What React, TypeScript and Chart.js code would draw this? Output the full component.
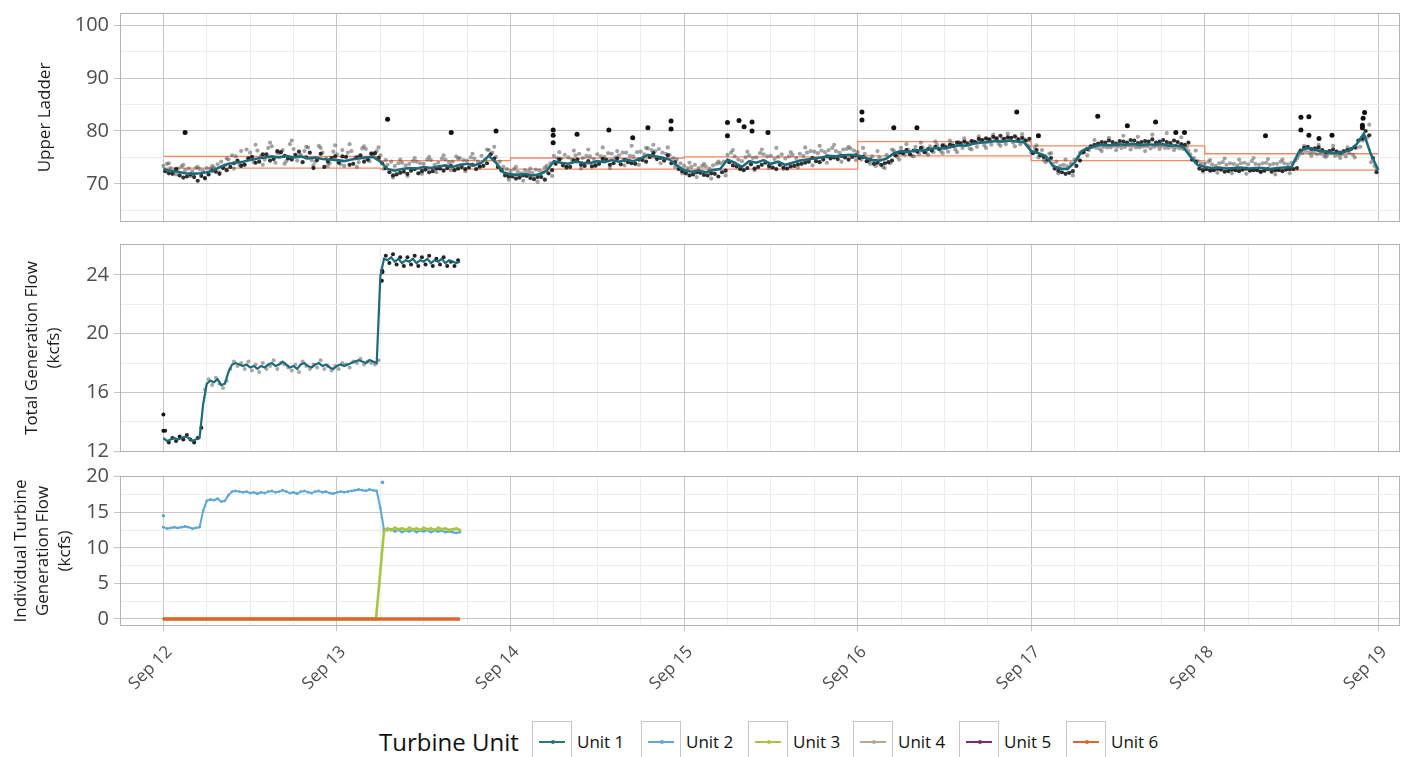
import React, { useEffect, useRef } from 'react';
import { Chart, registerables } from 'chart.js';

Chart.register(...registerables);

// ---------- DATA ----------
const DAY_LABELS = ['Sep 12', 'Sep 13', 'Sep 14', 'Sep 15', 'Sep 16', 'Sep 17', 'Sep 18', 'Sep 19'];

// Upper Ladder smoothed line, hourly from Sep 12 00:00 (h = 0..168)
const LADDER_LINE = [
  72.8, 72.5, 72.3, 72.0, 71.9, 72.0, 72.2, 72.6, 73.3, 73.8, 74.0, 74.2, 74.5, 74.8, 75.0, 75.2, 75.0, 75.3, 75.0, 75.2, 74.8, 75.0, 74.7, 74.6,
  74.5, 74.3, 74.6, 74.8, 75.0, 75.1, 74.2, 72.8, 72.5, 72.8, 73.0, 72.9, 73.2, 73.0, 73.3, 73.5, 73.2, 73.6, 73.8, 73.5, 74.0, 75.3, 74.0, 72.2,
  71.8, 71.7, 71.9, 71.6, 71.8, 72.5, 74.3, 74.0, 73.8, 74.2, 74.0, 73.9, 74.3, 74.1, 74.5, 74.2, 74.6, 74.3, 74.8, 75.5, 75.2, 75.0, 74.6, 73.5,
  72.6, 72.3, 72.5, 72.2, 72.6, 72.8, 74.6, 74.0, 73.2, 74.3, 74.0, 74.5, 73.8, 74.2, 73.6, 74.0, 74.4, 74.6, 74.8, 75.0, 75.3, 75.2, 75.4, 75.5,
  75.4, 75.0, 74.5, 74.4, 74.8, 75.8, 76.2, 76.0, 76.4, 76.3, 76.6, 76.8, 76.7, 77.0, 77.3, 77.2, 77.6, 77.8, 77.9, 78.1, 78.0, 78.2, 78.0, 77.9,
  76.2, 75.8, 75.3, 73.4, 72.9, 72.8, 74.0, 76.2, 76.8, 77.2, 77.4, 77.3, 77.5, 77.4, 77.6, 77.3, 77.5, 77.4, 77.6, 77.2, 77.3, 77.0, 75.2, 73.6,
  73.2, 73.0, 73.1, 72.9, 73.0, 73.1, 72.9, 73.0, 73.0, 72.8, 73.0, 73.1, 73.2, 76.0, 76.8, 76.5, 76.2, 76.0, 75.8, 76.0, 76.3, 77.5, 79.5, 75.5,
  72.6,
];

// Upper Ladder readings (dark points), hourly at h + 0.25
const LADDER_BLACK_A = [
  72.4, 71.9, 71.6, 71.4, 71.3, 71.5, 71.8, 72.3, 73.0, 73.2, 74.4, 73.6, 75.1, 74.2, 75.6, 74.7, 76.0, 74.8, 75.5, 74.1, 75.9, 74.5, 73.2, 74.9,
  74.0, 75.1, 73.8, 75.4, 74.6, 75.8, 73.9, 72.2, 71.8, 72.3, 72.5, 72.0, 72.7, 72.4, 72.9, 73.0, 72.6, 73.2, 73.1, 72.8, 73.4, 75.6, 73.2, 71.6,
  71.4, 71.2, 71.5, 70.9, 71.3, 72.0, 73.8, 73.5, 73.2, 74.6, 73.4, 73.3, 73.8, 74.5, 73.9, 73.7, 74.1, 73.8, 74.5, 75.1, 74.7, 74.4, 73.9, 72.8,
  72.0, 71.8, 72.1, 71.6, 71.9, 72.2, 74.1, 73.3, 72.6, 73.7, 73.2, 74.0, 73.1, 73.6, 72.9, 73.4, 73.8, 74.2, 74.3, 74.6, 74.8, 74.7, 75.0, 75.1,
  74.9, 74.3, 73.8, 73.6, 74.1, 75.4, 75.8, 75.6, 76.1, 76.0, 76.3, 76.6, 76.9, 77.2, 77.6, 77.5, 77.9, 78.3, 78.4, 78.6, 78.5, 78.7, 78.4, 78.2,
  75.8, 75.4, 74.6, 72.9, 72.2, 72.1, 73.4, 76.0, 77.1, 77.6, 77.8, 77.9, 78.1, 77.8, 78.2, 77.9, 78.0, 77.8, 78.3, 77.7, 77.9, 77.4, 74.6, 72.9,
  72.8, 72.6, 72.7, 72.4, 72.6, 72.7, 72.5, 72.6, 72.5, 72.3, 72.6, 72.7, 72.8, 76.3, 77.0, 76.7, 76.4, 76.2, 76.1, 76.2, 76.6, 78.2, 80.0, 74.9,
];

// Upper Ladder readings (dark points), hourly at h + 0.75
const LADDER_BLACK_B = [
  72.0, 72.8, 71.2, 71.8, 70.6, 71.1, 72.5, 71.9, 72.6, 73.9, 73.4, 74.8, 74.0, 75.6, 74.4, 76.2, 75.3, 74.6, 76.1, 75.0, 73.0, 75.7, 74.2, 75.2,
  75.2, 73.6, 75.0, 74.2, 75.7, 74.9, 73.0, 71.6, 72.1, 71.9, 72.8, 72.4, 72.2, 72.9, 72.5, 73.4, 72.9, 72.8, 73.6, 73.3, 73.9, 74.8, 72.6, 71.4,
  71.0, 71.6, 71.1, 71.3, 70.8, 72.6, 74.6, 73.2, 74.4, 73.6, 74.3, 73.5, 74.7, 73.6, 74.8, 74.5, 73.9, 74.6, 74.2, 75.8, 74.9, 75.4, 74.1, 72.4,
  71.6, 72.2, 71.7, 72.0, 71.4, 72.5, 73.5, 72.8, 73.0, 72.9, 73.6, 73.4, 72.8, 73.1, 73.3, 73.7, 74.0, 74.9, 74.1, 75.2, 75.0, 75.3, 74.6, 75.4,
  75.1, 74.6, 74.0, 73.9, 74.4, 75.9, 76.4, 76.3, 76.8, 76.6, 77.0, 77.3, 77.4, 77.8, 78.0, 78.1, 78.5, 78.6, 78.9, 79.1, 78.8, 79.0, 78.7, 78.5,
  76.4, 75.1, 74.9, 72.5, 71.9, 72.4, 74.4, 76.6, 77.4, 77.9, 78.2, 77.6, 78.0, 78.3, 77.7, 78.1, 78.4, 78.0, 77.9, 78.2, 77.5, 77.8, 74.2, 72.6,
  72.5, 72.9, 72.3, 72.7, 72.4, 72.9, 72.6, 72.3, 72.8, 72.6, 72.4, 72.8, 73.0, 76.8, 76.6, 76.9, 76.0, 76.5, 75.9, 76.4, 76.9, 78.6, 79.2, 72.2,
];

// Upper Ladder readings (light points), hourly at h + 0.0
const LADDER_GREY_A = [
  73.4, 73.0, 72.9, 72.6, 72.4, 72.8, 73.0, 73.1, 74.2, 74.6, 75.2, 73.8, 75.9, 76.3, 74.6, 77.1, 75.8, 74.3, 76.6, 75.5, 76.9, 74.2, 75.9, 73.9,
  75.6, 73.4, 76.2, 74.1, 76.6, 75.5, 75.4, 73.6, 73.4, 74.0, 73.8, 74.2, 73.8, 74.5, 74.0, 74.6, 74.2, 74.9, 74.4, 74.8, 75.3, 76.4, 75.1, 73.2,
  72.4, 72.3, 72.6, 72.1, 72.5, 73.4, 75.3, 74.8, 75.0, 75.4, 74.9, 75.2, 75.6, 75.1, 75.7, 75.4, 75.9, 75.2, 76.1, 76.7, 76.2, 75.9, 75.5, 74.6,
  73.4, 73.2, 73.0, 73.3, 73.5, 73.9, 75.5, 75.2, 74.3, 75.4, 75.0, 75.6, 75.3, 75.1, 74.8, 75.5, 75.7, 75.9, 76.1, 76.3, 76.4, 76.2, 76.5, 76.7,
  76.0, 75.7, 75.2, 75.0, 75.5, 76.3, 76.8, 76.5, 77.0, 76.9, 77.1, 77.4, 77.3, 77.6, 77.9, 77.8, 78.1, 78.3, 78.4, 78.6, 78.5, 78.7, 78.6, 78.4,
  75.9, 75.0, 74.1, 73.8, 73.4, 73.3, 74.6, 75.8, 76.4, 76.8, 77.0, 76.9, 77.1, 77.0, 77.2, 76.9, 77.1, 77.0, 77.2, 76.8, 76.9, 76.6, 75.6, 74.3,
  73.8, 73.7, 73.9, 73.6, 73.8, 73.9, 73.7, 73.8, 73.9, 73.6, 73.8, 73.9, 74.0, 75.4, 76.2, 76.0, 75.7, 75.5, 75.3, 75.6, 75.8, 76.8, 78.4, 74.1,
];

// Upper Ladder readings (light points), hourly at h + 0.5
const LADDER_GREY_B = [
  73.8, 72.4, 73.3, 72.9, 73.0, 72.5, 72.9, 73.7, 73.5, 75.4, 73.6, 76.5, 74.1, 75.3, 76.8, 74.0, 76.4, 77.5, 74.4, 76.2, 74.5, 77.2, 74.8, 76.1,
  73.7, 75.9, 74.9, 76.7, 74.3, 76.2, 72.9, 74.2, 73.9, 73.5, 74.3, 73.9, 74.6, 73.6, 74.8, 74.1, 75.2, 74.5, 75.0, 74.2, 74.6, 75.9, 74.2, 72.8,
  72.8, 72.0, 72.3, 72.7, 72.2, 73.9, 74.9, 75.5, 74.6, 75.7, 75.3, 74.7, 75.2, 75.8, 75.0, 75.9, 75.3, 76.0, 75.6, 76.4, 76.6, 75.7, 74.9, 73.9,
  73.0, 73.6, 73.4, 72.9, 73.8, 74.2, 75.9, 74.6, 75.0, 74.9, 75.8, 75.2, 74.7, 75.6, 75.2, 74.9, 75.3, 76.2, 75.8, 76.0, 76.8, 75.9, 76.6, 76.3,
  74.6, 74.2, 73.4, 73.2, 73.9, 75.1, 75.5, 75.3, 75.7, 75.9, 76.0, 76.2, 76.1, 76.5, 76.8, 76.7, 77.0, 77.3, 77.4, 77.6, 77.5, 77.8, 77.5, 77.3,
  76.8, 76.4, 75.7, 74.2, 73.6, 73.9, 75.1, 76.5, 77.0, 76.6, 76.9, 77.2, 76.8, 77.3, 76.9, 77.1, 76.7, 77.2, 76.8, 77.0, 76.7, 76.9, 74.9, 73.9,
  74.2, 73.4, 74.1, 73.9, 73.5, 74.0, 74.3, 73.6, 74.0, 73.8, 74.2, 73.7, 74.4, 75.8, 75.9, 75.6, 75.3, 75.8, 75.4, 75.2, 75.5, 77.0, 78.8, 73.4,
];

// Upper Ladder readings (light points, wider scatter), hourly at h + 0.75
const LADDER_GREY_C = [
  73.9, 71.8, 73.6, 71.5, 73.2, 71.0, 73.4, 72.2, 74.8, 72.9, 76.2, 74.9, 77.4, 73.6, 77.8, 75.9, 73.8, 78.2, 75.2, 77.0, 73.5, 76.8, 73.4, 77.3,
  76.4, 77.5, 73.2, 77.1, 75.8, 76.9, 74.5, 71.2, 74.6, 71.5, 74.9, 71.9, 75.1, 72.2, 75.4, 72.6, 74.8, 72.4, 75.7, 73.1, 76.5, 77.0, 72.5, 70.8,
  73.2, 70.6, 72.9, 70.4, 73.1, 71.5, 76.0, 73.0, 76.3, 72.9, 76.5, 73.4, 76.9, 73.0, 76.2, 73.5, 77.2, 73.6, 76.8, 77.4, 73.9, 76.9, 73.2, 72.0,
  74.0, 71.3, 73.8, 71.0, 74.2, 71.6, 76.4, 73.2, 76.1, 72.6, 76.5, 73.0, 76.8, 72.8, 76.0, 73.1, 76.9, 73.5, 77.2, 74.0, 77.4, 74.2, 77.0, 74.5,
  76.8, 73.8, 76.2, 73.0, 76.5, 74.6, 77.5, 75.2, 77.8, 75.5, 78.0, 75.8, 78.2, 76.0, 78.6, 76.5, 79.0, 76.8, 79.3, 77.2, 79.5, 77.1, 79.4, 77.0,
  77.3, 74.5, 75.8, 72.0, 74.6, 71.6, 75.9, 75.4, 78.3, 76.2, 78.7, 76.4, 79.1, 76.5, 78.9, 76.2, 79.3, 76.6, 79.6, 76.4, 78.8, 76.2, 76.3, 72.3,
  74.5, 72.1, 74.8, 72.0, 74.6, 71.9, 74.9, 72.2, 74.7, 71.8, 74.6, 72.0, 74.8, 77.2, 75.3, 77.4, 75.1, 77.2, 74.9, 76.9, 75.0, 78.2, 81.2, 72.8,
];

// Upper Ladder outlying readings
const LADDER_OUTLIER_HOURS = [3.0, 31.0, 39.8, 46.0, 53.9, 53.9, 53.9, 57.2, 61.6, 64.9, 67.0, 70.2, 70.2, 78.0, 78.0, 79.6, 80.3, 81.4, 81.4, 83.6, 96.6, 96.6, 101.0, 104.2, 118.0, 121.0, 129.2, 133.3, 137.2, 140.0, 141.2, 152.4, 157.3, 158.4, 157.3, 158.4, 159.8, 161.6, 166.1, 165.9, 165.8, 165.8];
const LADDER_OUTLIER_VALUES = [79.7, 82.2, 79.7, 80.0, 80.2, 79.2, 77.8, 79.4, 80.2, 78.7, 80.6, 81.9, 80.4, 81.6, 79.1, 82.0, 80.8, 81.7, 80.0, 79.7, 83.6, 82.1, 80.6, 80.6, 83.6, 79.1, 82.8, 81.0, 81.7, 79.7, 79.7, 79.1, 82.6, 82.7, 80.2, 79.2, 78.6, 79.2, 83.5, 82.4, 81.1, 80.6];

// Criteria band (step lines), start hour of each step
const BAND_HOURS = [0, 30, 48, 72, 96, 120, 144, 168];
const BAND_UPPER = [75.2, 74.4, 74.9, 75.1, 78.0, 77.2, 75.7, 75.7];
const BAND_LOWER = [73.0, 72.8, 72.8, 72.8, 75.3, 74.4, 72.6, 72.6];

// Total generation flow (kcfs), every half hour from h = 0 to 41
const TOTAL_LINE = [
  12.9, 12.7, 12.8, 12.9, 12.8, 12.9, 13.0, 12.9, 12.7, 12.8, 12.9,
  15.2, 16.6, 16.8, 16.7, 16.9, 16.5, 16.6, 17.4, 17.9,
  18.0, 17.9, 17.8, 17.9, 17.7, 17.8, 17.6, 17.8, 17.7, 17.9,
  18.0, 17.8, 17.9, 18.1, 17.9, 17.7, 17.8, 17.6, 17.9, 18.0,
  17.8, 17.7, 17.9, 18.0, 17.8, 17.9, 17.7, 17.6, 17.8, 17.9,
  17.8, 17.9, 18.0, 18.1, 18.2, 18.1, 18.0, 18.2, 18.1, 18.0,
  23.9, 25.1, 25.0, 25.2, 24.9, 25.1, 24.8, 25.0, 24.9, 25.1,
  24.8, 25.0, 24.9, 25.1, 24.8, 25.0, 24.9, 25.1, 24.8, 25.0,
  24.9, 24.8, 24.9,
];
// Total generation flow readings, every half hour at h + 0.25
const TOTAL_DOTS = [
  13.4, 12.6, 12.9, 12.7, 13.0, 12.8, 13.1, 12.8, 12.6, 12.9, 13.6,
  16.2, 16.9, 16.5, 17.0, 16.6, 16.3, 16.8, 17.6, 18.1,
  17.8, 18.0, 17.6, 18.1, 17.5, 17.9, 17.4, 18.0, 17.6, 17.8,
  18.2, 17.6, 18.0, 17.9, 17.7, 17.5, 17.9, 17.4, 18.1, 17.8,
  17.6, 17.9, 17.7, 18.2, 17.6, 17.8, 17.5, 17.8, 17.6, 18.0,
  17.9, 17.7, 18.1, 18.0, 18.3, 17.9, 18.1, 18.0, 17.9, 18.2,
  24.3, 25.3, 24.8, 25.4, 24.7, 25.2, 24.6, 25.2, 24.7, 25.3,
  24.6, 25.2, 24.7, 25.3, 24.6, 25.1, 24.7, 25.2, 24.6, 24.9, 24.6, 25.0,
];
const TOTAL_EXTRA_HOURS = [0, 0, 30.2, 30.3];
const TOTAL_EXTRA_VALUES = [14.5, 13.4, 23.6, 24.2];

// Individual turbine flows (kcfs)
const UNIT2_FLOW = [
  12.9, 12.7, 12.8, 12.9, 12.8, 12.9, 13.0, 12.9, 12.7, 12.8, 12.9,
  15.2, 16.6, 16.8, 16.7, 16.9, 16.5, 16.6, 17.4, 17.9,
  18.0, 17.9, 17.8, 17.9, 17.7, 17.8, 17.6, 17.8, 17.7, 17.9,
  18.0, 17.8, 17.9, 18.1, 17.9, 17.7, 17.8, 17.6, 17.9, 18.0,
  17.8, 17.7, 17.9, 18.0, 17.8, 17.9, 17.7, 17.6, 17.8, 17.9,
  17.8, 17.9, 18.0, 18.1, 18.2, 18.1, 18.0, 18.2, 18.1, 18.0,
  15.6, 12.6, 12.5, 12.6, 12.3, 12.5, 12.2, 12.4, 12.3, 12.5,
  12.2, 12.4, 12.3, 12.5, 12.2, 12.4, 12.3, 12.4, 12.2, 12.3,
  12.2, 12.1, 12.2,
];
const UNIT2_EXTRA_HOURS = [0, 30.3];
const UNIT2_EXTRA_VALUES = [14.5, 19.2];
const UNIT3_HOURS = [0, 29.4, 30.5, 31, 31.5, 32, 32.5, 33, 33.5, 34, 34.5, 35, 35.5, 36, 36.5, 37, 37.5, 38, 38.5, 39, 39.5, 40, 40.5, 41];
const UNIT3_FLOW = [0, 0, 12.3, 12.7, 12.5, 12.8, 12.6, 12.7, 12.5, 12.8, 12.6, 12.7, 12.5, 12.8, 12.6, 12.7, 12.5, 12.8, 12.6, 12.7, 12.5, 12.6, 12.7, 12.5];
const OFF_HOURS = [0, 41];
const OFF_FLOW = [0, 0];

const UNIT_NAMES = ['Unit 1', 'Unit 2', 'Unit 3', 'Unit 4', 'Unit 5', 'Unit 6'];
const UNIT_COLORS = ['#2b7774', '#5fa8d6', '#a7c445', '#b8a791', '#7e2a72', '#e0652b'];

// ---------- STYLE HELPERS ----------
const FONT = "'Open Sans', 'Noto Sans', sans-serif";
const X_MIN = -6;
const X_MAX = 171;
const HOUR_TICKS: number[] = [];
for (let h = 0; h <= 168; h += 6) HOUR_TICKS.push(h);
const MAJOR = '#c6c6c6';
const MINOR = '#ececec';
const CLEAR = 'rgba(0,0,0,0)';

type Pt = { x: number; y: number };
const series = (vals: number[], step: number, offset: number): Pt[] => vals.map((y, i) => ({ x: i * step + offset, y }));
const zip = (xs: number[], ys: number[]): Pt[] => xs.map((x, i) => ({ x, y: ys[i] }));

const panelBorder = {
  id: 'panelBorder',
  afterDraw(chart: any) {
    const { ctx, chartArea: a } = chart;
    ctx.save();
    ctx.strokeStyle = '#b3b3b3';
    ctx.lineWidth = 1;
    ctx.strokeRect(Math.round(a.left) + 0.5, Math.round(a.top) + 0.5, Math.round(a.width) - 1, Math.round(a.height) - 1);
    ctx.restore();
  },
};

interface PanelCfg {
  datasets: any[];
  yMin: number;
  yMax: number;
  yTicks: number[];
  yMajor: number[];
  title: string | string[];
  titlePad: number;
  showX: boolean;
  padTop: number;
  xHeight: number;
}

function makePanel(canvas: HTMLCanvasElement, cfg: PanelCfg) {
  return new Chart(canvas, {
    type: 'line',
    data: { datasets: cfg.datasets },
    plugins: [panelBorder],
    options: {
      responsive: false,
      maintainAspectRatio: false,
      animation: false,
      parsing: false as any,
      normalized: true,
      layout: { padding: { left: 0, right: 4, top: cfg.padTop, bottom: 0 } },
      plugins: { legend: { display: false }, tooltip: { enabled: false } },
      elements: { line: { tension: 0 }, point: { radius: 0, borderWidth: 0 } },
      scales: {
        x: {
          type: 'linear',
          min: X_MIN,
          max: X_MAX,
          afterBuildTicks: (s: any) => {
            s.ticks = HOUR_TICKS.map((v) => ({ value: v }));
          },
          afterFit: (s: any) => {
            s.height = cfg.xHeight;
            s.paddingLeft = 0;
            s.paddingRight = 0;
          },
          ticks: {
            display: cfg.showX,
            autoSkip: false,
            minRotation: 45,
            maxRotation: 45,
            padding: 11,
            labelOffset: 6,
            color: '#4d4d4d',
            font: { family: FONT, size: 17 },
            callback: (_v: any, i: number, ticks: any[]) => {
              const v = ticks[i].value;
              return v % 24 === 0 ? DAY_LABELS[v / 24] : '';
            },
          },
          grid: {
            color: (c: any) => (c.tick && c.tick.value % 24 === 0 ? MAJOR : MINOR),
            tickColor: (c: any) => (c.tick && c.tick.value % 24 === 0 ? MAJOR : CLEAR),
            drawTicks: cfg.showX,
            tickLength: 5,
            lineWidth: 1,
          },
          border: { display: false },
        },
        y: {
          type: 'linear',
          min: cfg.yMin,
          max: cfg.yMax,
          afterBuildTicks: (s: any) => {
            s.ticks = cfg.yTicks.map((v) => ({ value: v }));
          },
          afterFit: (s: any) => {
            s.width = 120;
            s.paddingTop = 0;
            s.paddingBottom = 0;
          },
          ticks: {
            autoSkip: false,
            padding: 5,
            color: '#4d4d4d',
            font: { family: FONT, size: 20 },
            callback: (_v: any, i: number, ticks: any[]) => {
              const v = ticks[i].value;
              return cfg.yMajor.includes(v) ? String(v) : '';
            },
          },
          grid: {
            color: (c: any) => (c.tick && cfg.yMajor.includes(c.tick.value) ? MAJOR : MINOR),
            tickColor: (c: any) => (c.tick && cfg.yMajor.includes(c.tick.value) ? MAJOR : CLEAR),
            tickLength: 6,
            lineWidth: 1,
          },
          border: { display: false },
          title: {
            display: true,
            text: cfg.title,
            color: '#1a1a1a',
            font: { family: FONT, size: 17, lineHeight: 1.3 },
            padding: { top: cfg.titlePad, bottom: 0 },
          },
        },
      },
    } as any,
  });
}

const dots = (data: Pt[], color: any, r: number) => ({
  data,
  showLine: false,
  pointRadius: r,
  pointBackgroundColor: color,
  pointBorderWidth: 0,
  borderColor: color,
});

const line = (data: Pt[], color: string, w: number, r = 0, extra: any = {}) => ({
  data,
  borderColor: color,
  borderWidth: w,
  pointRadius: r,
  pointBackgroundColor: color,
  pointBorderWidth: 0,
  fill: false,
  ...extra,
});

export default function App() {
  const c1 = useRef<HTMLCanvasElement>(null);
  const c2 = useRef<HTMLCanvasElement>(null);
  const c3 = useRef<HTMLCanvasElement>(null);

  useEffect(() => {
    const charts: Chart[] = [];
    const teal = '#1d6a7a';
    const black = 'rgba(12,12,12,0.85)';
    const grey = 'rgba(85,85,85,0.55)';

    charts.push(
      makePanel(c1.current!, {
        datasets: [
          dots(zip(LADDER_OUTLIER_HOURS, LADDER_OUTLIER_VALUES), '#111', 2.5),
          line(series(LADDER_LINE, 1, 0), teal, 2.6),
          dots(series(LADDER_BLACK_A, 1, 0.25), black, 2.1),
          dots(series(LADDER_BLACK_B, 1, 0.75), black, 2.1),
          dots(series(LADDER_GREY_A, 1, 0), grey, 2.1),
          dots(series(LADDER_GREY_B, 1, 0.5), grey, 2.1),
          dots(series(LADDER_GREY_C, 1, 0.75), grey, 2.1),
          line(zip(BAND_HOURS, BAND_UPPER), '#f08a68', 1.3, 0, { stepped: 'before' }),
          line(zip(BAND_HOURS, BAND_LOWER), '#f08a68', 1.3, 0, { stepped: 'before' }),
        ],
        yMin: 62.8,
        yMax: 102.3,
        yTicks: [65, 70, 75, 80, 85, 90, 95, 100],
        yMajor: [70, 80, 90, 100],
        title: 'Upper Ladder',
        titlePad: 34,
        showX: false,
        padTop: 13,
        xHeight: 8,
      })
    );

    charts.push(
      makePanel(c2.current!, {
        datasets: [
          line(series(TOTAL_LINE, 0.5, 0), teal, 2.2),
          dots(zip(TOTAL_EXTRA_HOURS, TOTAL_EXTRA_VALUES), '#111', 2),
          dots(
            series(TOTAL_DOTS, 0.5, 0.25),
            (c: any) => {
              const v = c.raw ? c.raw.y : 0;
              return v < 15 || v > 22 ? 'rgba(10,10,10,0.9)' : 'rgba(110,110,110,0.6)';
            },
            2
          ),
        ],
        yMin: 11.95,
        yMax: 26.1,
        yTicks: [12, 14, 16, 18, 20, 22, 24],
        yMajor: [12, 16, 20, 24],
        title: ['Total Generation Flow', '(kcfs)'],
        titlePad: 21,
        showX: false,
        padTop: 14,
        xHeight: 8,
      })
    );

    charts.push(
      makePanel(c3.current!, {
        datasets: [
          line(zip(OFF_HOURS, OFF_FLOW), UNIT_COLORS[5], 3.5),
          line(zip(OFF_HOURS, OFF_FLOW), UNIT_COLORS[4], 2),
          line(zip(OFF_HOURS, OFF_FLOW), UNIT_COLORS[3], 2),
          line(zip(OFF_HOURS, OFF_FLOW), UNIT_COLORS[0], 2),
          line(zip(UNIT3_HOURS, UNIT3_FLOW), UNIT_COLORS[2], 2.6, 1.6),
          line(series(UNIT2_FLOW, 0.5, 0), UNIT_COLORS[1], 2, 1.4),
          dots(zip(UNIT2_EXTRA_HOURS, UNIT2_EXTRA_VALUES), UNIT_COLORS[1], 1.8),
        ],
        yMin: -1.0,
        yMax: 20.1,
        yTicks: [0, 2.5, 5, 7.5, 10, 12.5, 15, 17.5, 20],
        yMajor: [0, 5, 10, 15, 20],
        title: ['Individual Turbine', 'Generation Flow', '(kcfs)'],
        titlePad: 10,
        showX: true,
        padTop: 16,
        xHeight: 74,
      })
    );

    return () => charts.forEach((c) => c.destroy());
  }, []);

  const keyLeft = [532, 641, 748, 853, 959, 1066];

  return (
    <div style={{ position: 'absolute', left: 0, top: 0, width: 1404, height: 757, background: '#fff', overflow: 'hidden', fontFamily: FONT }}>
      <canvas ref={c1} width={1404} height={230} style={{ position: 'absolute', left: 0, top: 0, width: 1404, height: 230 }} />
      <canvas ref={c2} width={1404} height={230} style={{ position: 'absolute', left: 0, top: 230, width: 1404, height: 230 }} />
      <canvas ref={c3} width={1404} height={240} style={{ position: 'absolute', left: 0, top: 460, width: 1404, height: 240 }} />
      <div style={{ position: 'absolute', left: 379, top: 725, fontSize: 24, color: '#111', lineHeight: '34px', whiteSpace: 'nowrap' }}>Turbine Unit</div>
      {UNIT_NAMES.map((name, i) => (
        <React.Fragment key={name}>
          <div
            style={{
              position: 'absolute',
              left: keyLeft[i],
              top: 721,
              width: 40,
              height: 38,
              boxSizing: 'border-box',
              border: '1px solid #c6c6c6',
              background: '#fff',
            }}
          >
            <div style={{ position: 'absolute', left: 6, right: 6, top: 19, height: 2, background: UNIT_COLORS[i] }} />
            <div style={{ position: 'absolute', left: 18, top: 18, width: 4, height: 4, borderRadius: 2, background: UNIT_COLORS[i] }} />
          </div>
          <div style={{ position: 'absolute', left: keyLeft[i] + 45, top: 729, fontSize: 17, color: '#111', lineHeight: '26px', whiteSpace: 'nowrap' }}>{name}</div>
        </React.Fragment>
      ))}
    </div>
  );
}
